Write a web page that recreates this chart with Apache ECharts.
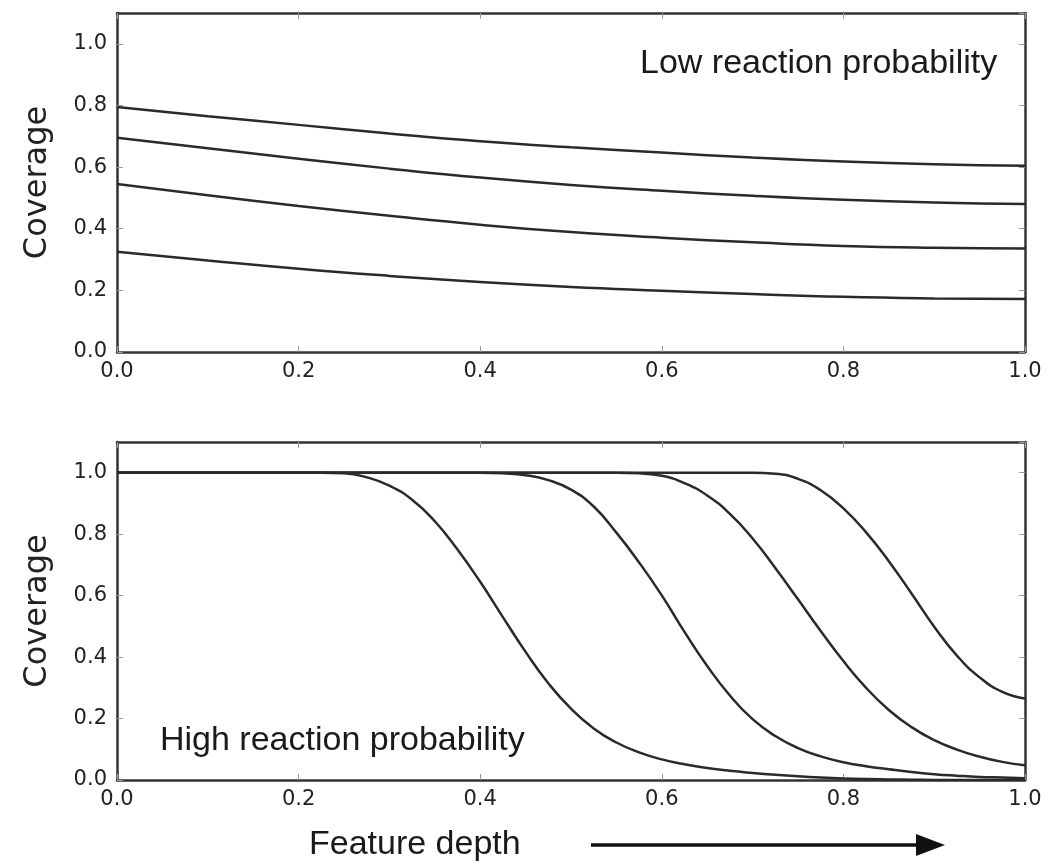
<!DOCTYPE html>
<html>
<head>
<meta charset="utf-8">
<title>Coverage vs feature depth</title>
<script src="https://cdn.jsdelivr.net/npm/echarts@6/dist/echarts.min.js"></script>
<style>
html, body { margin: 0; padding: 0; background: #fff; }
#chart { width: 1049px; height: 867px; }
</style>
</head>
<body>
<div id="chart"></div>
<script>
// 上图：低反应概率，x 取样点
const lowX = [0, 0.1, 0.2, 0.3, 0.4, 0.5, 0.6, 0.7, 0.8, 0.9, 1.0];
const lowCurve1 = [0.795, 0.765, 0.737, 0.709, 0.684, 0.664, 0.647, 0.631, 0.618, 0.609, 0.604];
const lowCurve2 = [0.695, 0.661, 0.627, 0.595, 0.566, 0.542, 0.523, 0.507, 0.494, 0.485, 0.480];
const lowCurve3 = [0.545, 0.509, 0.474, 0.442, 0.413, 0.389, 0.371, 0.356, 0.344, 0.338, 0.336];
const lowCurve4 = [0.325, 0.297, 0.270, 0.247, 0.227, 0.211, 0.199, 0.188, 0.179, 0.174, 0.172];

// 下图：高反应概率，x 取样点（步长 0.025）
const highX = [0, 0.025, 0.05, 0.075, 0.1, 0.125, 0.15, 0.175, 0.2, 0.225,
	0.25, 0.275, 0.3, 0.325, 0.35, 0.375, 0.4, 0.425, 0.45, 0.475,
	0.5, 0.525, 0.55, 0.575, 0.6, 0.625, 0.65, 0.675, 0.7, 0.725,
	0.75, 0.775, 0.8, 0.825, 0.85, 0.875, 0.9, 0.925, 0.95, 0.975, 1.0];
const highCurve1 = [1, 1, 1, 1, 1, 1, 1, 1, 1, 1,
	0.998, 0.985, 0.958, 0.912, 0.842, 0.75, 0.645, 0.53, 0.417, 0.315,
	0.232, 0.168, 0.122, 0.09, 0.067, 0.051, 0.039, 0.03, 0.023, 0.017,
	0.012, 0.008, 0.005, 0.003, 0.002, 0.001, 0, 0, 0, 0, 0];
const highCurve2 = [1, 1, 1, 1, 1, 1, 1, 1, 1, 1,
	1, 1, 1, 1, 1, 1, 1, 0.998, 0.992, 0.976,
	0.945, 0.89, 0.805, 0.708, 0.601, 0.482, 0.371, 0.275, 0.198, 0.143,
	0.104, 0.077, 0.058, 0.045, 0.035, 0.026, 0.019, 0.014, 0.01, 0.008, 0.006];
const highCurve3 = [1, 1, 1, 1, 1, 1, 1, 1, 1, 1,
	1, 1, 1, 1, 1, 1, 1, 1, 1, 1,
	1, 1, 1, 0.998, 0.99, 0.966, 0.926, 0.866, 0.786, 0.69,
	0.588, 0.485, 0.387, 0.3, 0.228, 0.172, 0.13, 0.099, 0.076, 0.059, 0.048];
const highCurve4 = [1, 1, 1, 1, 1, 1, 1, 1, 1, 1,
	1, 1, 1, 1, 1, 1, 1, 1, 1, 1,
	1, 1, 1, 1, 1, 1, 1, 1, 1, 0.997,
	0.98, 0.943, 0.884, 0.806, 0.712, 0.607, 0.499, 0.405, 0.334, 0.287, 0.265];

// 刻度
const xTickStep = 0.2;
const yTickStep = 0.2;

let app = {};

window.onload = function () {
	app.init();
};

//初始化

app.init = function () {
	app.chart = echarts.init(document.getElementById('chart'), null, { renderer: 'canvas' });
	app.chart.setOption(app.buildOption());
};

//x 轴（下方带标签，上方只有刻度）

app.xAxis = function (gridIndex, position) {
	let showLabel = position === 'bottom';
	return {
		type: 'value',
		gridIndex: gridIndex,
		position: position,
		min: 0,
		max: 1,
		interval: xTickStep,
		axisLine: { show: true, onZero: false, lineStyle: { color: '#333', width: 2.5 } },
		axisTick: { show: true, inside: true, length: 6, lineStyle: { color: '#999', width: 1 } },
		axisLabel: {
			show: showLabel,
			margin: 9,
			color: '#222',
			fontFamily: 'DejaVu Sans',
			fontSize: 21,
			formatter: function (v) { return v.toFixed(1); }
		},
		splitLine: { show: false }
	};
};

//y 轴（左边带标签和名称，右边只有刻度）

app.yAxis = function (gridIndex, position) {
	let isLeft = position === 'left';
	return {
		type: 'value',
		gridIndex: gridIndex,
		position: position,
		min: 0,
		max: 1.1,
		interval: yTickStep,
		name: isLeft ? 'Coverage' : '',
		nameLocation: 'middle',
		nameGap: 63,
		nameTextStyle: { fontFamily: 'DejaVu Sans', fontSize: 32, color: '#222' },
		axisLine: { show: true, onZero: false, lineStyle: { color: '#333', width: 2.5 } },
		axisTick: { show: true, inside: true, length: 6, lineStyle: { color: '#999', width: 1 } },
		axisLabel: {
			show: isLeft,
			showMaxLabel: false,
			margin: 10,
			color: '#222',
			fontFamily: 'DejaVu Sans',
			fontSize: 21,
			formatter: function (v) { return v.toFixed(1); }
		},
		splitLine: { show: false }
	};
};

//曲线

app.line = function (xs, ys, axisIndex) {
	return {
		type: 'line',
		xAxisIndex: axisIndex,
		yAxisIndex: axisIndex,
		data: xs.map(function (x, i) { return [x, ys[i]]; }),
		showSymbol: false,
		smooth: 0.5,
		silent: true,
		lineStyle: { color: '#2a2a2a', width: 2.5 }
	};
};

app.buildOption = function () {
	let textFont = '34px "Liberation Sans", Arial, sans-serif';
	return {
		animation: false,
		backgroundColor: '#fff',
		grid: [
			{ left: 117, right: 24, top: 13, height: 339 },
			{ left: 117, right: 24, top: 442, height: 338 }
		],
		xAxis: [
			app.xAxis(0, 'bottom'), app.xAxis(0, 'top'),
			app.xAxis(1, 'bottom'), app.xAxis(1, 'top')
		],
		yAxis: [
			app.yAxis(0, 'left'), app.yAxis(0, 'right'),
			app.yAxis(1, 'left'), app.yAxis(1, 'right')
		],
		series: [
			app.line(lowX, lowCurve1, 0),
			app.line(lowX, lowCurve2, 0),
			app.line(lowX, lowCurve3, 0),
			app.line(lowX, lowCurve4, 0),
			app.line(highX, highCurve1, 2),
			app.line(highX, highCurve2, 2),
			app.line(highX, highCurve3, 2),
			app.line(highX, highCurve4, 2)
		],
		graphic: [
			{
				type: 'text', x: 640, y: 64,
				style: { text: 'Low reaction probability', font: textFont, fill: '#1a1a1a', align: 'left', verticalAlign: 'middle' }
			},
			{
				type: 'text', x: 160, y: 741,
				style: { text: 'High reaction probability', font: textFont, fill: '#1a1a1a', align: 'left', verticalAlign: 'middle' }
			},
			{
				type: 'text', x: 309, y: 845,
				style: { text: 'Feature depth', font: '34px "Liberation Sans", Arial, sans-serif', fill: '#1a1a1a', align: 'left', verticalAlign: 'middle' }
			},
			// 箭头
			{
				type: 'line',
				shape: { x1: 591, y1: 845, x2: 920, y2: 845 },
				style: { stroke: '#111', lineWidth: 3.5 }
			},
			{
				type: 'polygon',
				shape: { points: [[916, 834], [945, 845], [916, 856]] },
				style: { fill: '#111' }
			}
		]
	};
};
</script>
</body>
</html>
